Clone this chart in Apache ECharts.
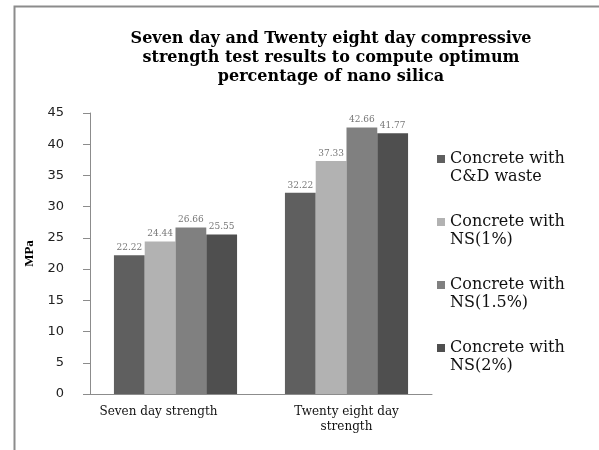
<!DOCTYPE html>
<html>
<head>
<meta charset="utf-8">
<script src="https://cdn.jsdelivr.net/npm/echarts@6/dist/echarts.min.js"></script>
<style>
  html, body { margin: 0; padding: 0; background: #fff; }
  #chart { width: 599px; height: 450px; }
</style>
</head>
<body>
<div id="chart"></div>
<script>
// Compressive strength (MPa) at 7 and 28 days for each mix
const categories = ['Seven day strength', 'Twenty eight day\nstrength'];
const seriesNames = [
  'Concrete with\nC&D waste',
  'Concrete with\nNS(1%)',
  'Concrete with\nNS(1.5%)',
  'Concrete with\nNS(2%)'
];
const cdWaste = [22.22, 32.22];
const ns1 = [24.44, 37.33];
const ns15 = [26.66, 42.66];
const ns2 = [25.55, 41.77];
const yTicks = { min: 0, max: 45, interval: 5 };
const colors = ['#5f5f5f', '#b2b2b2', '#808080', '#4f4f4f'];

const serif = '"DejaVu Serif", "Liberation Serif", serif';
const chart = echarts.init(document.getElementById('chart'));

const valueSets = [cdWaste, ns1, ns15, ns2];

// first category label sits a little left of its group
const categoryData = categories.map((c, i) => (
  i === 0 ? { value: c, textStyle: { padding: [0, 34, 0, 0] } } : { value: c }
));

chart.setOption({
  animation: false,
  backgroundColor: '#ffffff',
  title: {
    text: 'Seven day and Twenty eight day compressive\nstrength test results to compute optimum\npercentage of nano silica',
    left: 326,
    top: 24,
    textAlign: 'center',
    textStyle: {
      fontFamily: serif,
      fontWeight: 'bold',
      fontSize: 16,
      lineHeight: 19,
      color: '#000'
    }
  },
  graphic: [{
    type: 'rect',
    left: 12,
    top: 4,
    shape: { width: 700, height: 600 },
    style: { fill: 'none', stroke: '#8c8c8c', lineWidth: 2 },
    silent: true
  }],
  legend: {
    orient: 'vertical',
    left: 432,
    top: 127,
    itemWidth: 8,
    itemHeight: 8,
    itemGap: 9,
    icon: 'rect',
    // leading blank line puts the swatch beside the first text line
    formatter: (name) => '\n' + name,
    textStyle: {
      fontFamily: serif,
      fontSize: 16,
      lineHeight: 18,
      color: '#111'
    },
    data: seriesNames
  },
  grid: {
    left: 90,
    right: 167,
    top: 113,
    bottom: 56,
    containLabel: false
  },
  xAxis: {
    type: 'category',
    data: categoryData,
    axisLine: { lineStyle: { color: '#8c8c8c', width: 1 } },
    axisTick: { show: false },
    axisLabel: {
      fontFamily: serif,
      fontSize: 12,
      lineHeight: 15,
      color: '#111',
      margin: 10
    }
  },
  yAxis: {
    type: 'value',
    min: yTicks.min,
    max: yTicks.max,
    interval: yTicks.interval,
    name: 'MPa',
    nameLocation: 'middle',
    nameGap: 52,
    nameRotate: 90,
    nameTextStyle: {
      fontFamily: '"Liberation Serif", serif',
      fontWeight: 'bold',
      fontSize: 13,
      color: '#000'
    },
    axisLine: { show: true, lineStyle: { color: '#8c8c8c', width: 1 } },
    axisTick: { show: true, length: 7, lineStyle: { color: '#8c8c8c' } },
    splitLine: { show: false },
    axisLabel: {
      fontFamily: '"DejaVu Sans", Verdana, sans-serif',
      fontSize: 13,
      color: '#222',
      margin: 26
    }
  },
  series: seriesNames.map((name, i) => ({
    name: name,
    type: 'bar',
    data: valueSets[i],
    barGap: '0%',
    barCategoryGap: '28%',
    itemStyle: { color: colors[i] },
    label: {
      show: true,
      position: 'top',
      distance: 3,
      fontFamily: serif,
      fontSize: 9,
      color: '#777',
      formatter: (p) => p.value.toFixed(2)
    }
  }))
});
</script>
</body>
</html>
